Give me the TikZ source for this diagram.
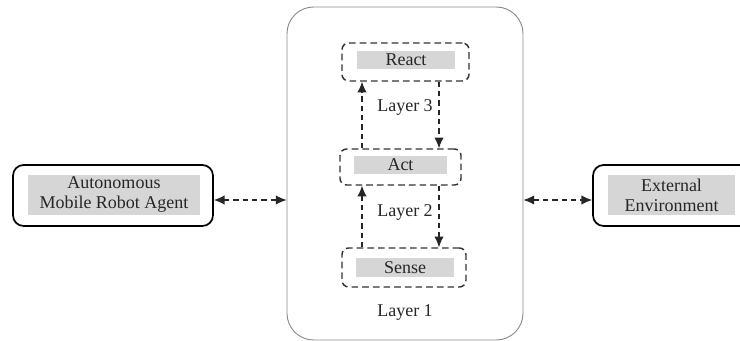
\documentclass[tikz,border=0pt]{standalone}
\usepackage{fontspec}
\setmainfont{Liberation Serif}
\usetikzlibrary{arrows.meta,calc}
\begin{document}
\begin{tikzpicture}[x=0.75pt,y=-0.75pt,
  txt/.style={font=\fontsize{13.5}{15}\selectfont, text=black!85, align=center, inner sep=0pt},
  graybox/.style={fill=black!16, draw=none, inner sep=0pt, font=\fontsize{13.5}{15}\selectfont, text=black!85, align=center},
  dashbox/.style={draw=black!80, line width=1.1pt, dash pattern=on 5pt off 3pt, rounded corners=5pt, inner sep=0pt},
  solidbox/.style={draw=black, line width=1.3pt, rounded corners=8pt, inner sep=0pt, fill=white},
  conn/.style={draw=black!85, line width=0.8pt, dash pattern=on 4pt off 3pt, -{Latex[length=8pt,width=7pt]}},
  bconn/.style={conn, {Latex[length=8pt,width=7pt]}-{Latex[length=8pt,width=7pt]}}
]
\useasboundingbox (0,0) rectangle (740,341);
\clip (0,0) rectangle (740,341);
% big layer box
\node[draw=black!45, line width=0.7pt, rounded corners=20pt, minimum width=177pt, minimum height=249.75pt, inner sep=0pt] (big) at (405,173.5) {};
\node[txt] (l1) at (405,313) {Layer 1};
% react
\node[dashbox, minimum width=95.25pt, minimum height=28.5pt] (react) at (405.5,62) {};
\node[graybox, minimum width=73.5pt, minimum height=13.5pt] (reactin) at (406,60) {React};
% act
\node[dashbox, minimum width=90.75pt, minimum height=27pt] (act) at (400.5,167) {};
\node[graybox, minimum width=69.75pt, minimum height=13.5pt] (actin) at (400.5,165) {Act};
% sense
\node[dashbox, minimum width=93pt, minimum height=29.25pt] (sense) at (404,267.5) {};
\node[graybox, minimum width=73.5pt, minimum height=14.25pt] (sensein) at (405,267.5) {Sense};
% labels
\node[txt] (l3) at (405,107) {Layer 3};
\node[txt] (l2) at (405,212) {Layer 2};
% left box
\node[solidbox, minimum width=150pt, minimum height=45.75pt] (agent) at (113,195.5) {};
\node[graybox, minimum width=129pt, minimum height=30pt] (agentin) at (114,195) {Autonomous\\Mobile Robot Agent};
% right box
\node[solidbox, minimum width=160.5pt, minimum height=45.75pt] (env) at (700,195.5) {};
\node[graybox, minimum width=95.25pt, minimum height=30pt] (envin) at (671.5,195) {External\\Environment};
% connector guides
\coordinate (xl) at (362,0);
\coordinate (xr) at (439,0);
\coordinate (yh) at (0,200);
% vertical arrows
\draw[conn] (act.north -| xl) -- (react.south -| xl);
\draw[conn] (react.south -| xr) -- (act.north -| xr);
\draw[conn] (sense.north -| xl) -- (act.south -| xl);
\draw[conn] (act.south -| xr) -- (sense.north -| xr);
% horizontal arrows
\draw[bconn] (agent.east |- yh) -- (big.west |- yh);
\draw[bconn] (big.east |- yh) -- (env.west |- yh);
\end{tikzpicture}
\end{document}
